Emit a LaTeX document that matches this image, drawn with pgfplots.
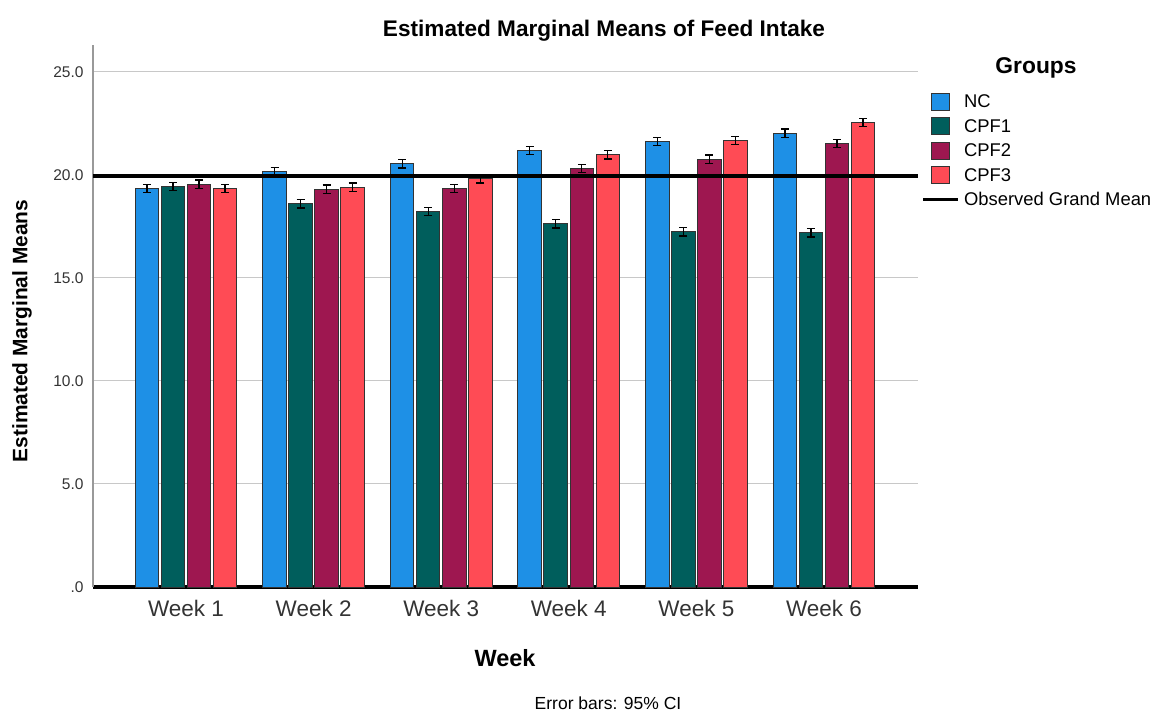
\documentclass[border=0pt]{standalone}
\usepackage{pgfplots}
\pgfplotsset{compat=1.18}
\usepackage{fontspec}
\setmainfont{Liberation Sans}
\definecolor{cNC}{RGB}{30,144,230}
\definecolor{cC1}{RGB}{0,94,92}
\definecolor{cC2}{RGB}{158,23,80}
\definecolor{cC3}{RGB}{255,75,85}
\definecolor{gridc}{RGB}{200,200,200}
\newcommand{\fs}[1]{\fontsize{#1}{#1}\selectfont}
\begin{document}
\begin{tikzpicture}[x=1pt,y=1pt]
\path[use as bounding box] (0,0) rectangle (1154,713);
\begin{axis}[
  at={(93pt,126pt)}, anchor=south west,
  scale only axis, width=825pt, height=542pt,
  ybar,
  xmin=-0.729, xmax=5.737, ymin=0, ymax=26.3,
  bar width=0.185,
  axis x line=bottom, axis y line=left,
  x axis line style={line width=4.5pt, black, -},
  y axis line style={line width=1.5pt, black!40, -},
  major tick length=0pt,
  xtick={0,1,2,3,4,5},
  xticklabels={Week 1,Week 2,Week 3,Week 4,Week 5,Week 6},
  ytick={0,5,10,15,20,25},
  yticklabels={.0,5.0,10.0,15.0,20.0,25.0},
  x tick label style={font=\fs{22.5}, text=black!80, yshift=-10pt},
  y tick label style={font=\fs{15.5}, text=black!80, xshift=-6pt},
  ymajorgrids, grid style={gridc, line width=1pt},
  legend style={draw=none, fill=none, at={(1.0035,0.912)}, anchor=north west,
    font=\fs{18.4}, row sep=6.5pt, inner sep=0pt,
    nodes={inner sep=1.5pt}},
  legend cell align=left,
  clip=false,
]
\pgfplotsset{
 barerr/.style={draw=black!80, line width=1pt,
    error bars/y dir=both, error bars/y explicit,
    error bars/error mark=|,
    error bars/error bar style={black, line width=1.3pt},
    error bars/error mark options={black, line width=1.3pt, mark size=4pt}},
 boxlegend/.style={legend image code/.code={%
   \path (-8pt,0pt) (29pt,0pt);
   \draw[##1, line width=1pt, draw=black!80] (0pt,-8.5pt) rectangle (18pt,8.5pt);}}}
\addplot[fill=cNC, bar shift=-0.306, barerr, boxlegend] coordinates {
 (0,19.34) +- (0,0.2) (1,20.15) +- (0,0.2) (2,20.53) +- (0,0.2)
 (3,21.17) +- (0,0.2) (4,21.62) +- (0,0.2) (5,22.02) +- (0,0.2)};
\addplot[fill=cC1, bar shift=-0.102, barerr, boxlegend] coordinates {
 (0,19.43) +- (0,0.2) (1,18.59) +- (0,0.2) (2,18.22) +- (0,0.2)
 (3,17.62) +- (0,0.2) (4,17.23) +- (0,0.2) (5,17.18) +- (0,0.2)};
\addplot[fill=cC2, bar shift=0.102, barerr, boxlegend] coordinates {
 (0,19.55) +- (0,0.2) (1,19.30) +- (0,0.2) (2,19.34) +- (0,0.2)
 (3,20.31) +- (0,0.2) (4,20.76) +- (0,0.2) (5,21.52) +- (0,0.2)};
\addplot[fill=cC3, bar shift=0.306, barerr, boxlegend] coordinates {
 (0,19.34) +- (0,0.2) (1,19.40) +- (0,0.2) (2,19.81) +- (0,0.2)
 (3,20.97) +- (0,0.2) (4,21.67) +- (0,0.2) (5,22.54) +- (0,0.2)};
\addplot[sharp plot, black, line width=4.5pt, no markers,
  legend image code/.code={\path (-8pt,0pt) (29pt,0pt);
   \draw[black, line width=3pt] (-8pt,0pt) -- (27pt,0pt);}]
  coordinates {(-0.729,19.94) (5.737,19.94)};
\legend{NC,CPF1,CPF2,CPF3,Observed Grand Mean}
\end{axis}
\node[font=\bfseries\fs{22.6}] at (604,682) {Estimated Marginal Means of Feed Intake};
\node[font=\bfseries\fs{20.9}, rotate=90] at (22,382) {Estimated Marginal Means};
\node[font=\bfseries\fs{23.5}] at (505,55) {Week};
\node[font=\fs{17.5}] at (608,10) {Error bars: 95\% CI};
\node[font=\bfseries\fs{22.8}] at (1036,645) {Groups};
\end{tikzpicture}
\end{document}
